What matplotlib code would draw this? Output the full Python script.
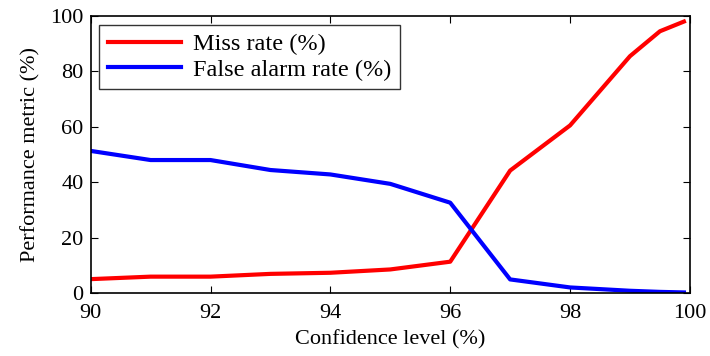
import matplotlib
matplotlib.use('Agg')
import matplotlib.pyplot as plt

plt.rcParams['font.family'] = ['Liberation Serif', 'DejaVu Serif']

# Data
confidence = [90, 91, 92, 93, 94, 95, 96, 97, 98, 99, 99.5, 99.9]
miss_rate = [5.0, 5.9, 5.9, 6.9, 7.3, 8.5, 11.3, 44.2, 60.5, 85.5, 94.5, 98.0]
false_alarm = [51.3, 48.0, 48.0, 44.4, 42.8, 39.4, 32.6, 4.9, 2.0, 0.8, 0.4, 0.2]

fig = plt.figure(figsize=(7.1, 3.56), dpi=100)
ax = fig.add_axes([0.1277, 0.177, 0.844, 0.778])

ax.plot(confidence, miss_rate, color='#ff0000', linewidth=3, label='Miss rate (%)')
ax.plot(confidence, false_alarm, color='#0000ff', linewidth=3, label='False alarm rate (%)')

ax.set_xlim(90, 100)
ax.set_ylim(0, 100)
ax.set_xticks(range(90, 101, 2))
ax.set_yticks(range(0, 101, 20))
ax.tick_params(direction='in', top=True, right=True, labelsize=16, length=5, width=0.8)
ax.tick_params(axis='x', pad=8)
ax.tick_params(axis='y', pad=5)
for sp in ax.spines.values():
    sp.set_linewidth(1.2)

ax.set_xlabel('Confidence level (%)', fontsize=16, labelpad=5)
ax.set_ylabel('Performance metric (%)', fontsize=16, labelpad=7)

leg = ax.legend(loc='upper left', fontsize=17.5, frameon=True, fancybox=False,
                edgecolor='black', borderaxespad=0.35, handlelength=3.0,
                borderpad=0.35, labelspacing=0.15, handletextpad=0.5)
leg.get_frame().set_linewidth(1.0)

plt.savefig('out.png', dpi=100)
plt.close(fig)
